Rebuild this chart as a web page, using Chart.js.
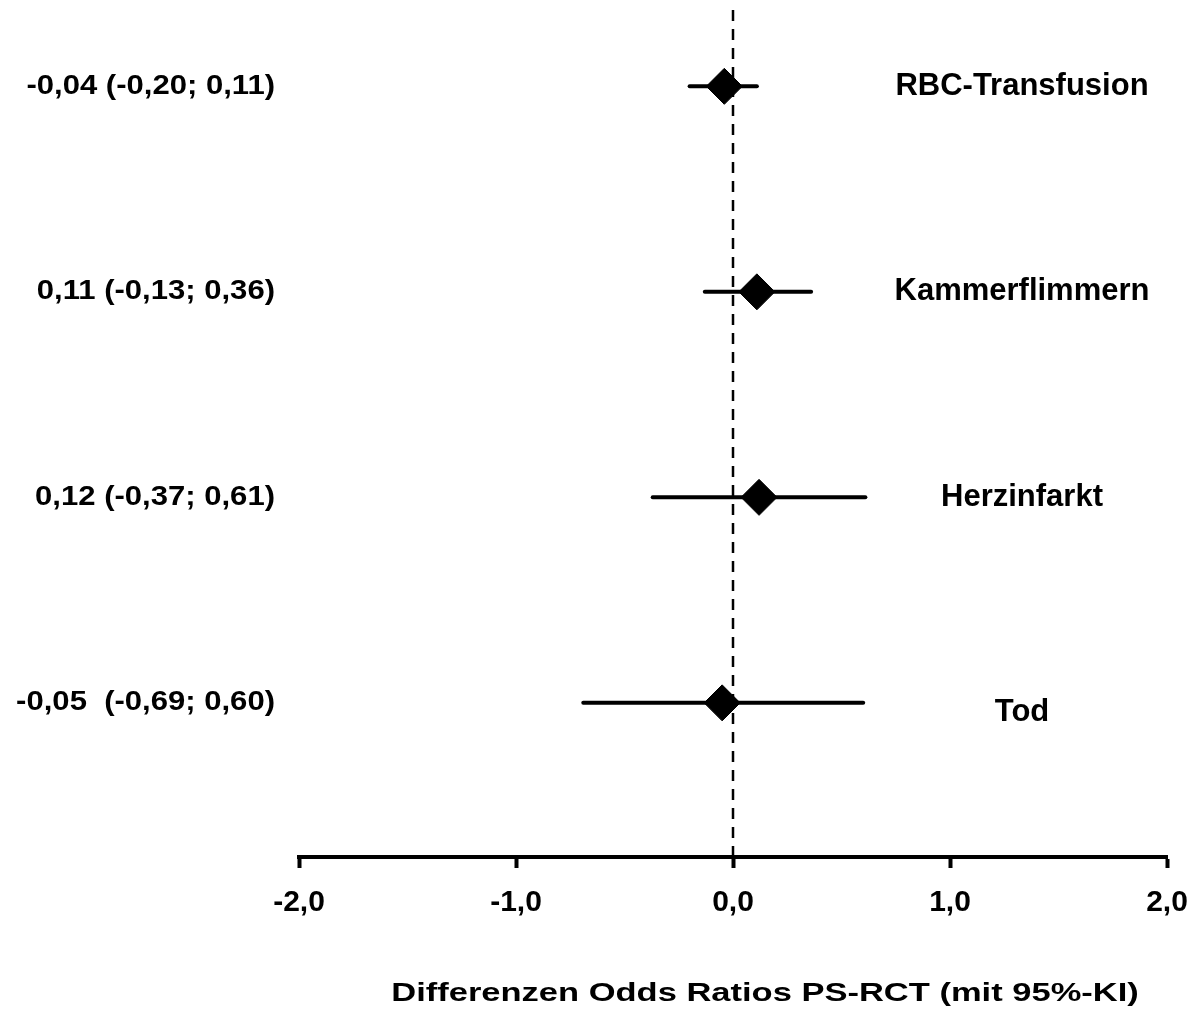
<!DOCTYPE html>
<html lang="de">
<head>
  <meta charset="UTF-8">
  <title>Differenzen Odds Ratios PS-RCT</title>
  <script src="https://cdn.jsdelivr.net/npm/chart.js"></script>
  <style>
    body { margin: 0; padding: 0; background: #fff; }
    #wrap { width: 1193px; height: 1010px; }
  </style>
</head>
<body>
  <div id="wrap"><canvas id="forest"></canvas></div>

  <script>
    // Daten
    const kategorien = ['RBC-Transfusion', 'Kammerflimmern', 'Herzinfarkt', 'Tod'];
    const schaetzer = [-0.04, 0.11, 0.12, -0.05];
    const untereGrenze = [-0.20, -0.13, -0.37, -0.69];
    const obereGrenze = [0.11, 0.36, 0.61, 0.60];
    const kiTexte = ['-0,04 (-0,20; 0,11)', '0,11 (-0,13; 0,36)', '0,12 (-0,37; 0,61)', '-0,05  (-0,69; 0,60)'];
    const xTicks = [-2, -1, 0, 1, 2];
    const achsenTitel = 'Differenzen Odds Ratios PS-RCT (mit 95%-KI)';

    const FONT = "'Liberation Sans', Arial, sans-serif";
    const Y_MIN = 0.25, Y_MAX = 4.42;
    const zeile = i => kategorien.length - i; // oberste Zeile = 4

    const fehlerBalken = kategorien.map((k, i) => ({
      type: 'line',
      data: [{ x: untereGrenze[i], y: zeile(i) }, { x: obereGrenze[i], y: zeile(i) }],
      borderColor: '#000',
      borderWidth: 4,
      borderCapStyle: 'round',
      pointRadius: 0,
      order: 2
    }));

    // Texte links/rechts und Achsentitel
    const textPlugin = {
      id: 'texte',
      afterDraw(chart) {
        const ctx = chart.ctx;
        const y = chart.scales.y;
        ctx.save();
        ctx.fillStyle = '#000';
        ctx.textBaseline = 'middle';

        // KI-Texte links (leicht gestreckt wie im Original)
        ctx.font = 'bold 27px ' + FONT;
        ctx.textAlign = 'right';
        kiTexte.forEach((t, i) => {
          ctx.save();
          ctx.translate(275, y.getPixelForValue(zeile(i)));
          ctx.scale(1.15, 1);
          ctx.fillText(t, 0, 0);
          ctx.restore();
        });

        // Endpunkte rechts
        ctx.font = 'bold 31px ' + FONT;
        ctx.textAlign = 'center';
        kategorien.forEach((k, i) => {
          const dy = k === 'Tod' ? 10 : 0;
          ctx.fillText(k, 1022, y.getPixelForValue(zeile(i)) + dy);
        });

        // Achsentitel
        ctx.font = 'bold 25px ' + FONT;
        ctx.save();
        ctx.translate(765, 994);
        ctx.scale(1.38, 1);
        ctx.fillText(achsenTitel, 0, 0);
        ctx.restore();
        ctx.restore();
      }
    };

    new Chart(document.getElementById('forest'), {
      type: 'scatter',
      data: {
        datasets: [
          {
            // Nulllinie
            type: 'line',
            data: [{ x: 0, y: Y_MIN }, { x: 0, y: Y_MAX - 0.04 }],
            borderColor: '#000',
            borderWidth: 2.5,
            borderDash: [11, 8],
            pointRadius: 0,
            order: 3
          },
          ...fehlerBalken,
          {
            data: schaetzer.map((v, i) => ({ x: v, y: zeile(i) })),
            pointStyle: 'rectRot',
            pointRadius: 18,
            pointHoverRadius: 18,
            backgroundColor: '#000',
            borderColor: '#000',
            borderWidth: 1,
            order: 1
          }
        ]
      },
      options: {
        responsive: true,
        maintainAspectRatio: false,
        animation: false,
        layout: { autoPadding: false, padding: { left: 299, right: 26, top: 0, bottom: 0 } },
        plugins: { legend: { display: false }, tooltip: { enabled: false } },
        scales: {
          x: {
            type: 'linear',
            min: -2,
            max: 2,
            afterFit(scale) {
              scale.height = 153;
              scale.paddingLeft = 0;
              scale.paddingRight = 0;
            },
            afterBuildTicks(scale) { scale.ticks = xTicks.map(v => ({ value: v })); },
            border: { display: true, color: '#000', width: 4 },
            grid: {
              drawOnChartArea: false,
              drawTicks: true,
              tickLength: 11,
              tickWidth: 4,
              tickColor: '#000'
            },
            ticks: {
              color: '#000',
              padding: 17,
              maxRotation: 0,
              font: { family: FONT, size: 30, weight: 'bold' },
              callback: v => v.toFixed(1).replace('.', ',')
            }
          },
          y: {
            type: 'linear',
            display: false,
            min: Y_MIN,
            max: Y_MAX
          }
        }
      },
      plugins: [textPlugin]
    });
  </script>
</body>
</html>
